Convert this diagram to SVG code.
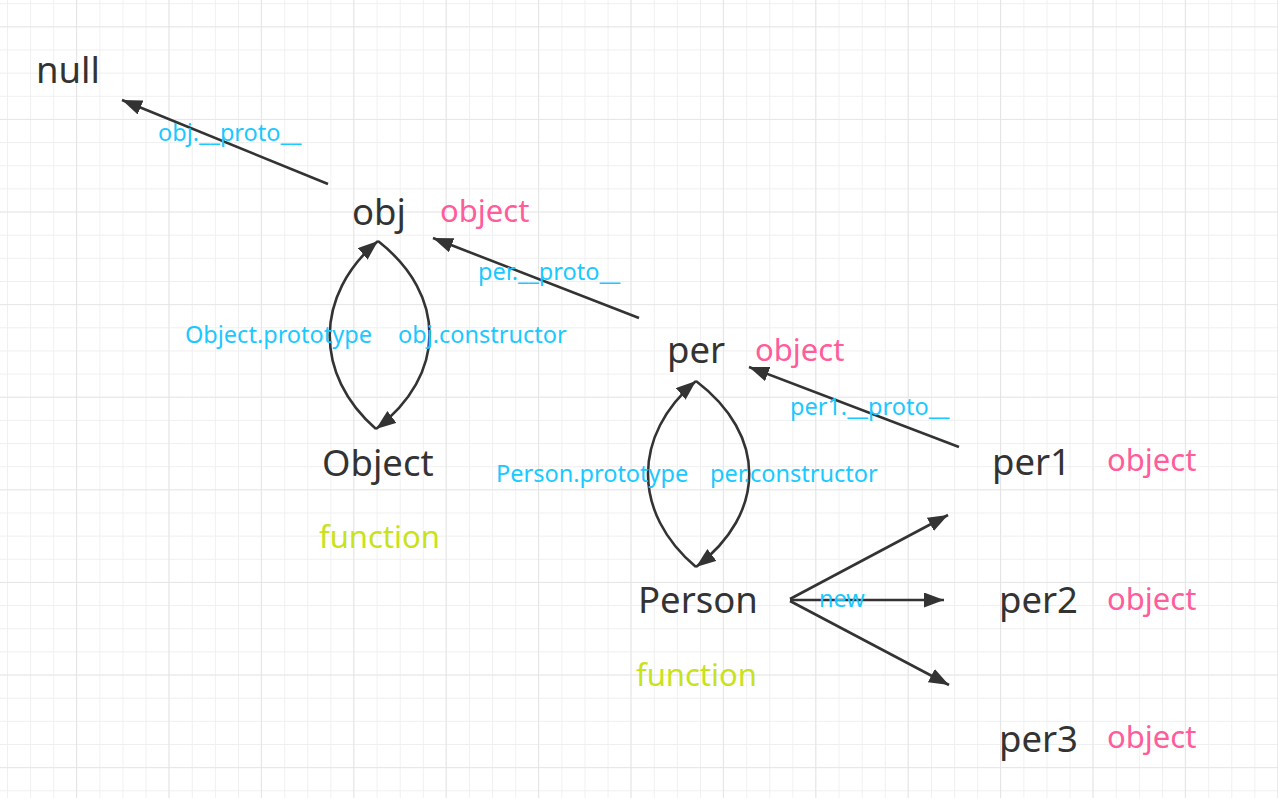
<svg xmlns="http://www.w3.org/2000/svg" width="1278" height="798" viewBox="0 0 1278 798">
<style>
.n{font-family:"Noto Sans","Open Sans","Liberation Sans",sans-serif;font-size:36.5px;fill:#333333}
.t{font-family:"Noto Sans","Open Sans","Liberation Sans",sans-serif;font-size:31px}
.pk{fill:#ff5c9b}
.fn{fill:#c8e21c}
.lb{font-family:"Noto Sans","Open Sans","Liberation Sans",sans-serif;font-size:23.5px;fill:#19c9ff}
.c{fill:none;stroke:#333333;stroke-width:2.6;marker-end:url(#ah)}
</style>
<defs>
<marker id="ah" markerUnits="userSpaceOnUse" markerWidth="22" markerHeight="16" refX="20" refY="7.5" orient="auto">
<path d="M0,0 L20,7.5 L0,15 z" fill="#333333"/>
</marker>
<pattern id="minor" patternUnits="userSpaceOnUse" x="7" y="3.2" width="23.1" height="23.15">
<path d="M0,0 V23.15 M0,0 H23.1" stroke="#efefef" stroke-width="1.7" fill="none"/>
</pattern>
<pattern id="major" patternUnits="userSpaceOnUse" x="76" y="26.3" width="92.4" height="92.6">
<path d="M0,0 V92.6 M0,0 H92.4" stroke="#e3e3e3" stroke-width="1.7" fill="none"/>
</pattern>
</defs>
<rect width="1278" height="798" fill="#ffffff"/>
<rect width="1278" height="798" fill="url(#minor)"/>
<rect width="1278" height="798" fill="url(#major)"/>

<g id="connectors">
<line class="c" x1="328" y1="184" x2="122" y2="100"/>
<line class="c" x1="639" y1="318" x2="433" y2="238"/>
<line class="c" x1="959" y1="447" x2="749" y2="367"/>
<path class="c" d="M376,429 C314,375 314,295 378,241"/>
<path class="c" d="M378,241 C447,295 447,375 376,429"/>
<path class="c" d="M696,567 C632,513 632,435 696,381"/>
<path class="c" d="M696,381 C767,435 767,513 696,567"/>
<line class="c" x1="790" y1="599" x2="948" y2="515"/>
<line class="c" x1="790" y1="600" x2="944" y2="600"/>
<line class="c" x1="790" y1="601" x2="949" y2="685"/>
</g>

<g id="edge-labels">
<text class="lb" x="158" y="141">obj.__proto__</text>
<text class="lb" x="478" y="280">per.__proto__</text>
<text class="lb" x="185" y="343">Object.prototype</text>
<text class="lb" x="398" y="343">obj.constructor</text>
<text class="lb" x="790" y="415">per1.__proto__</text>
<text class="lb" x="496" y="482">Person.prototype</text>
<text class="lb" x="710" y="482">per.constructor</text>
<text class="lb" x="819" y="607">new</text>
</g>

<g id="node-null"><text class="n" x="36" y="83">null</text></g>
<g id="node-obj"><text class="n" x="352" y="225">obj</text><text class="t pk" x="440" y="222">object</text></g>
<g id="node-per"><text class="n" x="667" y="363">per</text><text class="t pk" x="755" y="361">object</text></g>
<g id="node-Object"><text class="n" x="322" y="476">Object</text><text class="t fn" x="319" y="548">function</text></g>
<g id="node-Person"><text class="n" x="638" y="613">Person</text><text class="t fn" x="636" y="686">function</text></g>
<g id="node-per1"><text class="n" x="992" y="475">per1</text><text class="t pk" x="1107" y="471">object</text></g>
<g id="node-per2"><text class="n" x="999" y="613">per2</text><text class="t pk" x="1107" y="610">object</text></g>
<g id="node-per3"><text class="n" x="999" y="752">per3</text><text class="t pk" x="1107" y="748">object</text></g>
</svg>
